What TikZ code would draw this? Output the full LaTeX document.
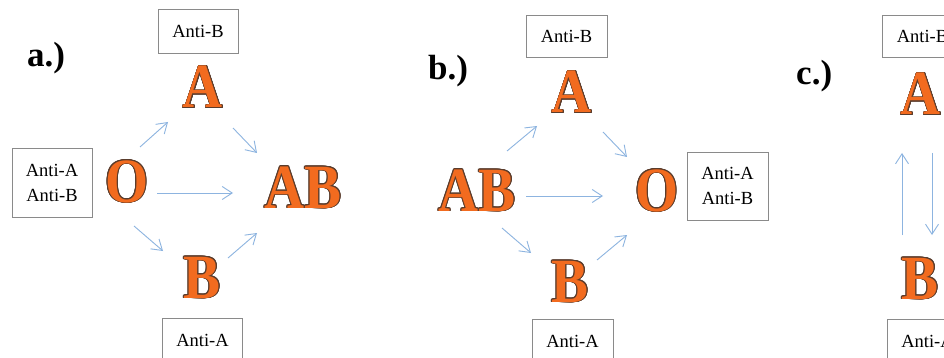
\documentclass[tikz,border=0pt]{standalone}
\usepackage{fontspec}
\setmainfont{Liberation Serif}
\newfontfamily\bigletters[FakeStretch=0.88]{Liberation Serif}
\usepackage[copies]{contour}
\usetikzlibrary{arrows.meta}
\definecolor{arrowblue}{HTML}{8DB4E0}
\definecolor{letterorange}{HTML}{F26B1F}
\definecolor{letteredge}{HTML}{5A3C2C}
\definecolor{boxgray}{HTML}{8A8A8A}
\contourlength{0.7pt}
\contournumber{16}
\tikzset{
  arr/.style={draw=arrowblue, line width=0.9pt, -{Straight Barb[length=10pt,width=13pt]}},
  antibox/.style={draw=boxgray, line width=0.8pt, minimum width=80pt, minimum height=44pt, inner sep=0pt, align=center, font=\fontsize{18.5}{25}\selectfont},
  blood/.style={anchor=base, inner sep=0pt, text=letterorange, font=\bigletters\bfseries\fontsize{63}{63}\selectfont},
  panel/.style={anchor=base west, inner sep=0pt, font=\bfseries\fontsize{35}{35}\selectfont},
}
\newcommand{\bloodtext}[1]{\contour{letteredge}{#1}}
\begin{document}
\begin{tikzpicture}[x=1pt,y=-1pt]
\useasboundingbox (0,0) rectangle (944,358);
\clip (0,0) rectangle (944,358);
\fill[white] (0,0) rectangle (944,358);
% ---------- panel a ----------
\node[panel] (la) at (27,67) {a.)};
\node[antibox] (aAntiB) at (198,31) {Anti-B};
\node[antibox, minimum height=69pt] (aAntiAB) at (52,182.5) {Anti-A\\Anti-B};
\node[antibox] (aAntiA) at (202.5,340) {Anti-A};
\node[blood] (aA) at (203,108) {\bloodtext{A}};
\node[blood] (aO) at (127,202) {\bloodtext{O}};
\node[blood] (aAB) at (303,208) {\bloodtext{AB}};
\node[blood] (aB) at (202,298) {\bloodtext{B}};
\coordinate (a1s) at (140,147); \coordinate (a1e) at (168,122);
\coordinate (a2s) at (233,128); \coordinate (a2e) at (257,153);
\coordinate (a3s) at (157,193); \coordinate (a3e) at (233,193);
\coordinate (a4s) at (134,226); \coordinate (a4e) at (163,251);
\coordinate (a5s) at (228,258); \coordinate (a5e) at (257,233);
\draw[arr] (a1s) -- (a1e);
\draw[arr] (a2s) -- (a2e);
\draw[arr] (a3s) -- (a3e);
\draw[arr] (a4s) -- (a4e);
\draw[arr] (a5s) -- (a5e);
% ---------- panel b ----------
\node[panel] (lb) at (428,80) {b.)};
\node[antibox, minimum width=81pt, minimum height=42pt] (bAntiB) at (566.5,36) {Anti-B};
\node[antibox, minimum width=81pt, minimum height=68pt] (bAntiAB) at (727.5,186) {Anti-A\\Anti-B};
\node[antibox, minimum width=81pt] (bAntiA) at (572.5,341) {Anti-A};
\node[blood] (bA) at (572,113) {\bloodtext{A}};
\node[blood] (bAB) at (477,211) {\bloodtext{AB}};
\node[blood] (bO) at (657,211) {\bloodtext{O}};
\node[blood] (bB) at (570,302) {\bloodtext{B}};
\coordinate (b1s) at (507,151); \coordinate (b1e) at (537,126);
\coordinate (b2s) at (603,132); \coordinate (b2e) at (627,157);
\coordinate (b3s) at (526,196); \coordinate (b3e) at (603,196);
\coordinate (b4s) at (502,228); \coordinate (b4e) at (531,253);
\coordinate (b5s) at (597,260); \coordinate (b5e) at (627,235);
\draw[arr] (b1s) -- (b1e);
\draw[arr] (b2s) -- (b2e);
\draw[arr] (b3s) -- (b3e);
\draw[arr] (b4s) -- (b4e);
\draw[arr] (b5s) -- (b5e);
% ---------- panel c ----------
\node[panel] (lc) at (796,85) {c.)};
\node[antibox, minimum width=81pt, minimum height=42pt] (cAntiB) at (922.5,36) {Anti-B};
\node[antibox, minimum width=81pt] (cAntiA) at (927.5,341) {Anti-A};
\node[blood] (cA) at (921,115) {\bloodtext{A}};
\node[blood] (cB) at (920,299) {\bloodtext{B}};
\coordinate (c1s) at (902,235); \coordinate (c1e) at (902,153);
\coordinate (c2s) at (932,153); \coordinate (c2e) at (932,235);
\draw[arr] (c1s) -- (c1e);
\draw[arr] (c2s) -- (c2e);
\end{tikzpicture}
\end{document}
